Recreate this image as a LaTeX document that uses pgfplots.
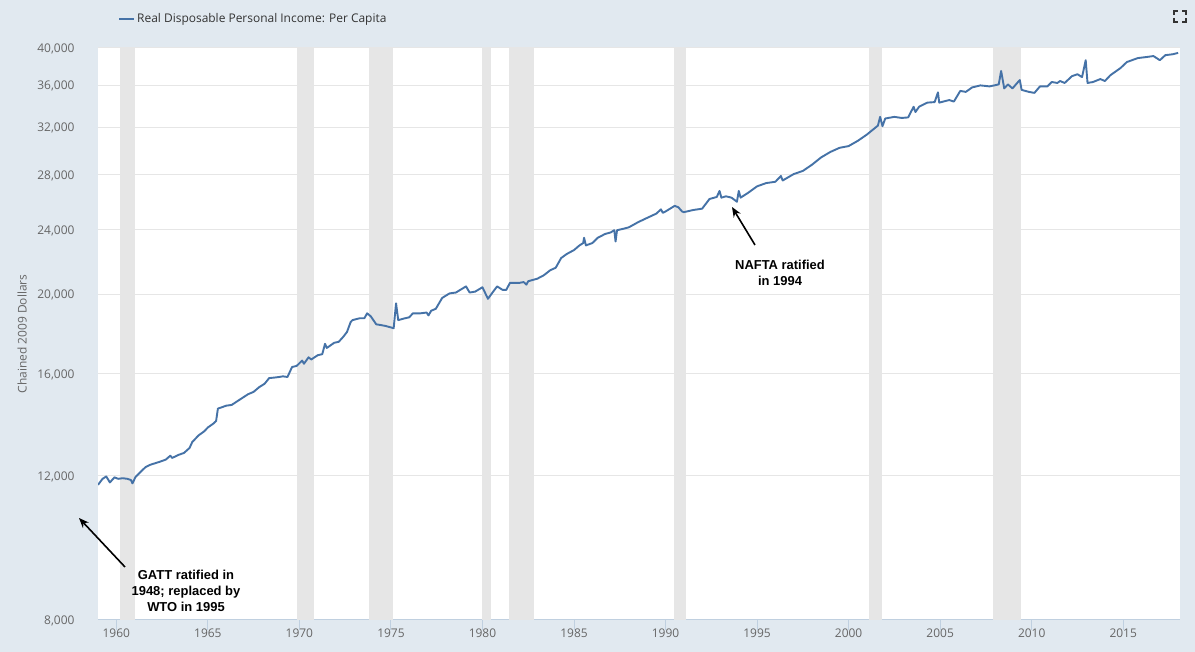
\documentclass[border=0pt]{standalone}
\usepackage{fontspec}
\setmainfont{Open Sans}
\newfontfamily\annfont{Liberation Sans}
\usepackage{pgfplots}
\pgfplotsset{compat=1.18}
\usetikzlibrary{arrows.meta}
\definecolor{bgc}{HTML}{E1E9F0}
\definecolor{linec}{HTML}{4572A7}
\definecolor{recc}{HTML}{E6E6E6}
\definecolor{gridc}{HTML}{E6E6E6}
\definecolor{axc}{HTML}{C0D0E0}
\definecolor{txtc}{HTML}{666666}
\definecolor{legc}{HTML}{333333}
\begin{document}
\begin{tikzpicture}[x=1bp,y=1bp]
\fill[bgc] (0,0) rectangle (1195,652);
\begin{axis}[
  at={(98bp,32bp)}, anchor=south west,
  scale only axis, width=1082bp, height=572bp,
  ymode=log, ymin=8000, ymax=40000,
  xmin=1959.0, xmax=2018.1,
  axis background/.style={fill=white},
  ytick={8000,12000,16000,20000,24000,28000,32000,36000,40000},
  yticklabels={{8,000},{12,000},{16,000},{20,000},{24,000},{28,000},{32,000},{36,000},{40,000}},
  xtick={1960,1965,1970,1975,1980,1985,1990,1995,2000,2005,2010,2015},
  xticklabels={1960,1965,1970,1975,1980,1985,1990,1995,2000,2005,2010,2015},
  minor tick num=0, log basis y=10,
  ymajorgrids, major grid style={gridc, line width=1bp},
  axis x line*=bottom, axis y line*=left,
  y axis line style={draw=none},
  x axis line style={axc, line width=1bp},
  tick align=outside,
  ytick style={draw=none},
  xtick style={axc, line width=1bp},
  major tick length=10bp,
  tick label style={font=\fontsize{12}{14}\selectfont, text=txtc},
  /pgf/number format/assume math mode=true,
  yticklabel style={xshift=-10bp, yshift=-1bp},
  xticklabel style={yshift=5bp},
  ylabel={Chained 2009 Dollars},
  every axis y label/.style={at={(axis description cs:-0.0702,0.5)}, rotate=90, anchor=center, font=\fontsize{12}{14}\selectfont, text=txtc},
  clip=true,
  legend style={draw=none, fill=none, at={(axis description cs:0.0185,1.0507)}, anchor=west, inner sep=0pt, font=\fontsize{12}{14}\selectfont, text=legc},
  legend cell align=left,
  legend image code/.code={\draw[linec, line width=2bp] (0bp,0bp) -- (15bp,0bp);},
]
% recessions
\addplot[fill=recc, draw=none, forget plot] coordinates {(1960.2,8000) (1960.2,40000) (1961.0,40000) (1961.0,8000)} -- cycle;
\addplot[fill=recc, draw=none, forget plot] coordinates {(1969.86,8000) (1969.86,40000) (1970.79,40000) (1970.79,8000)} -- cycle;
\addplot[fill=recc, draw=none, forget plot] coordinates {(1973.79,8000) (1973.79,40000) (1975.10,40000) (1975.10,8000)} -- cycle;
\addplot[fill=recc, draw=none, forget plot] coordinates {(1979.99,8000) (1979.99,40000) (1980.45,40000) (1980.45,8000)} -- cycle;
\addplot[fill=recc, draw=none, forget plot] coordinates {(1981.45,8000) (1981.45,40000) (1982.80,40000) (1982.80,8000)} -- cycle;
\addplot[fill=recc, draw=none, forget plot] coordinates {(1990.45,8000) (1990.45,40000) (1991.10,40000) (1991.10,8000)} -- cycle;
\addplot[fill=recc, draw=none, forget plot] coordinates {(2001.13,8000) (2001.13,40000) (2001.81,40000) (2001.81,8000)} -- cycle;
\addplot[fill=recc, draw=none, forget plot] coordinates {(2007.91,8000) (2007.91,40000) (2009.43,40000) (2009.43,8000)} -- cycle;
% series
\addplot[linec, line width=1.9bp, line join=round, mark=none] table {
1959.00 11700
1959.25 11900
1959.45 11980
1959.65 11780
1959.90 11950
1960.10 11900
1960.35 11920
1960.60 11900
1960.80 11860
1960.88 11750
1961.05 11960
1961.35 12150
1961.60 12300
1961.85 12380
1962.10 12430
1962.35 12480
1962.70 12560
1962.95 12700
1963.05 12620
1963.40 12730
1963.70 12800
1964.00 12980
1964.15 13200
1964.50 13450
1964.80 13600
1965.00 13750
1965.30 13900
1965.45 14000
1965.55 14500
1965.75 14550
1966.00 14620
1966.30 14650
1966.60 14800
1966.90 14950
1967.20 15100
1967.50 15200
1967.80 15400
1968.10 15550
1968.35 15800
1968.60 15820
1968.90 15850
1969.10 15880
1969.35 15850
1969.60 16300
1969.85 16350
1970.15 16600
1970.25 16450
1970.50 16750
1970.65 16650
1971.00 16850
1971.25 16900
1971.40 17400
1971.50 17200
1971.90 17450
1972.15 17500
1972.40 17750
1972.60 17990
1972.80 18500
1972.90 18600
1973.30 18700
1973.55 18700
1973.70 18960
1973.90 18800
1974.20 18380
1974.40 18350
1974.70 18300
1975.00 18220
1975.15 18180
1975.28 19500
1975.40 18600
1975.70 18680
1976.00 18750
1976.20 18960
1976.60 18960
1976.95 19000
1977.05 18850
1977.20 19100
1977.45 19200
1977.80 19800
1978.20 20050
1978.55 20100
1979.10 20450
1979.30 20100
1979.60 20150
1980.00 20400
1980.30 19750
1980.55 20100
1980.80 20450
1981.10 20250
1981.30 20250
1981.50 20650
1982.00 20650
1982.25 20700
1982.40 20550
1982.50 20750
1983.00 20900
1983.35 21100
1983.70 21400
1984.00 21550
1984.30 22150
1984.60 22400
1985.00 22650
1985.30 22950
1985.50 23100
1985.55 23450
1985.65 22950
1986.00 23100
1986.30 23450
1986.70 23700
1987.00 23800
1987.20 23950
1987.27 23200
1987.35 23950
1987.70 24050
1988.00 24150
1988.50 24500
1989.00 24800
1989.50 25100
1989.75 25400
1989.85 25150
1990.00 25250
1990.50 25650
1990.70 25550
1990.90 25250
1991.00 25200
1991.50 25350
1992.00 25450
1992.40 26150
1992.80 26300
1992.95 26750
1993.05 26250
1993.30 26350
1993.60 26250
1993.90 25950
1994.00 26750
1994.10 26250
1994.50 26600
1995.00 27100
1995.50 27350
1996.00 27450
1996.30 27900
1996.40 27550
1997.00 28050
1997.50 28300
1998.00 28800
1998.50 29400
1999.00 29850
1999.50 30200
2000.00 30350
2000.50 30800
2001.00 31350
2001.30 31750
2001.60 32150
2001.72 32950
2001.85 32100
2002.00 32800
2002.50 32950
2002.90 32850
2003.25 32900
2003.55 33900
2003.65 33400
2003.85 33900
2004.30 34300
2004.70 34350
2004.88 35300
2004.95 34300
2005.50 34550
2005.75 34400
2006.10 35450
2006.40 35350
2006.75 35800
2007.20 36000
2007.70 35900
2008.20 36100
2008.33 37500
2008.50 35700
2008.70 36100
2008.95 35700
2009.35 36550
2009.45 35550
2009.85 35350
2010.15 35250
2010.45 35900
2010.85 35900
2011.10 36350
2011.40 36250
2011.55 36450
2011.80 36250
2012.20 36950
2012.50 37150
2012.75 36850
2012.95 38650
2013.05 36250
2013.35 36350
2013.75 36650
2014.00 36450
2014.30 37050
2014.85 37800
2015.20 38450
2015.80 38880
2016.30 39000
2016.65 39100
2017.00 38650
2017.30 39200
2017.70 39300
2018.00 39450
};
\addlegendentry{Real Disposable Personal Income: Per Capita}
\end{axis}
% annotations
\draw[black, line width=1.6bp, -{Stealth[length=10bp,width=8bp]}] (755,407) -- (732,445);
\node[align=center, font=\annfont\bfseries\fontsize{13}{16}\selectfont] at (780,379) {NAFTA ratified\\in 1994};
\draw[black, line width=1.6bp, -{Stealth[length=10bp,width=8bp]}] (125,85) -- (79,134);
\node[align=center, font=\annfont\bfseries\fontsize{13}{16}\selectfont] at (186,61) {GATT ratified in\\1948; replaced by\\WTO in 1995};
% fullscreen icon
\begin{scope}[legc, line width=1.5bp]
\draw (1174,637) -- (1174,641) -- (1178,641);
\draw (1182,641) -- (1186,641) -- (1186,637);
\draw (1174,634) -- (1174,630) -- (1178,630);
\draw (1182,630) -- (1186,630) -- (1186,634);
\end{scope}
\pgfresetboundingbox
\path[use as bounding box] (0,0) rectangle (1195,652);
\end{tikzpicture}
\end{document}
